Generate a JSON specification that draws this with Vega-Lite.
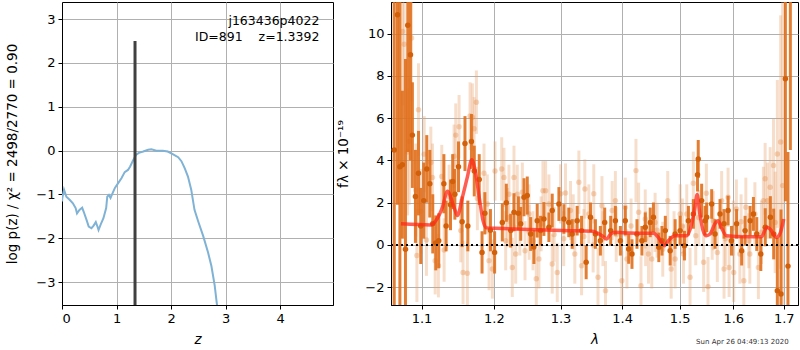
{
  "$schema": "https://vega.github.io/schema/vega-lite/v6.json",
  "padding": {"left": 5, "top": 1, "right": 0, "bottom": 0},
  "spacing": 2,
  "config": {
    "font": "DejaVu Sans",
    "view": {"stroke": "black", "strokeWidth": 1},
    "axis": {
      "labelFont": "DejaVu Sans", "labelFontSize": 13, "labelColor": "black",
      "titleFont": "DejaVu Sans", "titleFontSize": 13.5, "titleFontWeight": "normal", "titleColor": "black",
      "tickColor": "black", "tickSize": 4, "domainColor": "black",
      "gridColor": "#b0b0b0", "gridWidth": 1, "gridOpacity": 1, "labelPadding": 3
    }
  },
  "datasets": {
    "one": [{}],
    "pz": [
      {"z":0.0,"lp":-1.16},{"z":0.006,"lp":-1.08},{"z":0.037,"lp":-0.89},{"z":0.08,"lp":-1.05},{"z":0.14,"lp":-1.12},
      {"z":0.20,"lp":-1.20},{"z":0.25,"lp":-1.31},{"z":0.275,"lp":-1.43},{"z":0.32,"lp":-1.35},{"z":0.37,"lp":-1.30},
      {"z":0.40,"lp":-1.40},{"z":0.45,"lp":-1.58},{"z":0.49,"lp":-1.73},{"z":0.54,"lp":-1.77},{"z":0.58,"lp":-1.71},
      {"z":0.62,"lp":-1.63},{"z":0.65,"lp":-1.73},{"z":0.67,"lp":-1.81},{"z":0.71,"lp":-1.68},{"z":0.76,"lp":-1.54},
      {"z":0.81,"lp":-1.31},{"z":0.83,"lp":-1.05},{"z":0.86,"lp":-1.01},{"z":0.89,"lp":-1.08},{"z":0.92,"lp":-0.99},
      {"z":0.97,"lp":-0.85},{"z":1.03,"lp":-0.74},{"z":1.09,"lp":-0.63},{"z":1.15,"lp":-0.49},{"z":1.21,"lp":-0.44},
      {"z":1.25,"lp":-0.36},{"z":1.30,"lp":-0.23},{"z":1.36,"lp":-0.09},{"z":1.41,"lp":-0.05},{"z":1.49,"lp":-0.02},
      {"z":1.58,"lp":0.02},{"z":1.64,"lp":0.03},{"z":1.73,"lp":0.0},{"z":1.85,"lp":0.0},{"z":1.94,"lp":-0.02},
      {"z":2.03,"lp":-0.08},{"z":2.13,"lp":-0.15},{"z":2.19,"lp":-0.24},{"z":2.25,"lp":-0.40},{"z":2.31,"lp":-0.59},
      {"z":2.37,"lp":-0.89},{"z":2.43,"lp":-1.35},{"z":2.50,"lp":-1.62},{"z":2.59,"lp":-1.95},{"z":2.68,"lp":-2.33},
      {"z":2.74,"lp":-2.63},{"z":2.80,"lp":-3.07},{"z":2.85,"lp":-3.6}
    ],
    "zbest": [{"z":1.3392,"top":2.5,"bottom":-3.6}],
    "model": [
      {"w":1.0731,"f":1.0},{"w":1.1124,"f":0.95},{"w":1.1190,"f":1.15},{"w":1.1280,"f":1.78},{"w":1.1348,"f":2.54},
      {"w":1.1439,"f":1.78},{"w":1.1485,"f":1.39},{"w":1.1554,"f":2.26},{"w":1.1623,"f":3.21},{"w":1.1685,"f":4.03},
      {"w":1.1741,"f":3.36},{"w":1.1797,"f":2.10},{"w":1.1844,"f":1.15},{"w":1.1891,"f":0.81},{"w":1.2026,"f":0.79},
      {"w":1.2516,"f":0.73},{"w":1.3026,"f":0.68},{"w":1.3503,"f":0.65},{"w":1.3666,"f":0.44},{"w":1.3741,"f":0.28},
      {"w":1.3807,"f":0.52},{"w":1.3886,"f":0.60},{"w":1.411,"f":0.57},{"w":1.454,"f":0.55},{"w":1.463,"f":0.33},
      {"w":1.473,"f":-0.03},{"w":1.480,"f":0.21},{"w":1.492,"f":0.44},{"w":1.513,"f":0.44},{"w":1.522,"f":1.0},
      {"w":1.528,"f":1.79},{"w":1.532,"f":2.39},{"w":1.537,"f":1.47},{"w":1.543,"f":0.68},{"w":1.549,"f":0.44},
      {"w":1.556,"f":0.52},{"w":1.565,"f":1.0},{"w":1.571,"f":1.15},{"w":1.577,"f":0.84},{"w":1.587,"f":0.44},
      {"w":1.622,"f":0.39},{"w":1.655,"f":0.39},{"w":1.666,"f":0.84},{"w":1.672,"f":0.76},{"w":1.685,"f":0.36},
      {"w":1.692,"f":0.52},{"w":1.700,"f":1.23}
    ],
    "dark": [
      {"w":1.0645,"f":4.5,"e":9},{"w":1.0687,"f":10.9,"e":9},{"w":1.0718,"f":3.7,"e":9},{"w":1.0750,"f":3.8,"e":3.5},
      {"w":1.0790,"f":-0.2,"e":9},{"w":1.0820,"f":10.4,"e":6},{"w":1.0855,"f":9.0,"e":5},{"w":1.0880,"f":5.2,"e":2.5},
      {"w":1.0920,"f":2.3,"e":2.2},{"w":1.0960,"f":3.4,"e":2.0},{"w":1.0990,"f":0.9,"e":1.8},{"w":1.1030,"f":2.1,"e":1.8},
      {"w":1.1070,"f":3.6,"e":1.6},{"w":1.1110,"f":2.9,"e":1.6},{"w":1.1150,"f":1.0,"e":1.4},{"w":1.1190,"f":0.1,"e":1.3},
      {"w":1.1230,"f":0.2,"e":1.3},{"w":1.1300,"f":2.9,"e":1.4},{"w":1.1330,"f":0.9,"e":1.2},{"w":1.1390,"f":1.9,"e":1.2},
      {"w":1.1420,"f":3.0,"e":1.3},{"w":1.1450,"f":2.4,"e":1.2},{"w":1.1500,"f":3.7,"e":1.2},{"w":1.1550,"f":1.1,"e":1.2},
      {"w":1.1590,"f":4.8,"e":1.3},{"w":1.1630,"f":0.9,"e":1.2},{"w":1.1680,"f":4.9,"e":1.3},{"w":1.1720,"f":3.5,"e":1.2},
      {"w":1.1790,"f":3.1,"e":1.2},{"w":1.1830,"f":-0.35,"e":1.0},{"w":1.1870,"f":1.5,"e":1.0},{"w":1.1950,"f":0.7,"e":1.0},
      {"w":1.2010,"f":-0.35,"e":1.0},
      {"w":1.2122,"f":1.07,"e":0.9},{"w":1.2180,"f":2.0,"e":0.9},{"w":1.2244,"f":0.68,"e":0.8},{"w":1.2293,"f":1.55,"e":0.9},
      {"w":1.2358,"f":1.5,"e":0.8},{"w":1.2393,"f":1.0,"e":0.8},{"w":1.2442,"f":2.26,"e":0.9},{"w":1.2491,"f":2.34,"e":0.9},
      {"w":1.2542,"f":0.52,"e":0.8},{"w":1.2591,"f":-0.1,"e":0.8},{"w":1.2641,"f":1.15,"e":0.8},{"w":1.2692,"f":0.68,"e":0.7},
      {"w":1.2743,"f":1.23,"e":0.8},{"w":1.2820,"f":0.84,"e":0.7},{"w":1.2871,"f":1.63,"e":0.8},{"w":1.2975,"f":1.94,"e":0.8},
      {"w":1.3053,"f":1.23,"e":0.7},{"w":1.3130,"f":1.07,"e":0.7},{"w":1.3183,"f":0.52,"e":0.7},{"w":1.3263,"f":1.15,"e":0.7},
      {"w":1.3333,"f":0.68,"e":0.7},{"w":1.3407,"f":-0.82,"e":0.8},{"w":1.3477,"f":1.31,"e":0.7},{"w":1.3557,"f":0.52,"e":0.7},
      {"w":1.3638,"f":0.2,"e":0.7},{"w":1.3709,"f":1.07,"e":0.7},
      {"w":1.3808,"f":0.68,"e":0.7},{"w":1.3886,"f":1.15,"e":0.7},{"w":1.3970,"f":0.2,"e":0.7},{"w":1.4052,"f":1.15,"e":0.7},
      {"w":1.4110,"f":-0.19,"e":0.7},{"w":1.4166,"f":-0.43,"e":0.7},{"w":1.4251,"f":0.52,"e":0.7},{"w":1.4336,"f":0.2,"e":0.7},
      {"w":1.4394,"f":0.84,"e":0.7},{"w":1.4480,"f":1.07,"e":0.7},{"w":1.4536,"f":1.31,"e":0.7},{"w":1.4630,"f":-0.11,"e":0.7},
      {"w":1.4686,"f":0.2,"e":0.7},{"w":1.4745,"f":0.68,"e":0.7},{"w":1.4831,"f":-0.27,"e":0.7},{"w":1.4920,"f":0.52,"e":0.7},
      {"w":1.5010,"f":0.68,"e":0.7},{"w":1.5088,"f":-0.03,"e":0.7},{"w":1.5160,"f":1.15,"e":0.7},{"w":1.5250,"f":1.47,"e":0.7},
      {"w":1.5327,"f":3.33,"e":0.8},{"w":1.5340,"f":4.07,"e":0.9},{"w":1.5403,"f":2.1,"e":0.8},{"w":1.5467,"f":1.15,"e":0.7},
      {"w":1.5497,"f":1.31,"e":0.7},{"w":1.5590,"f":1.94,"e":0.7},{"w":1.5653,"f":0.52,"e":0.7},{"w":1.5747,"f":1.47,"e":0.7},
      {"w":1.5822,"f":1.0,"e":0.7},{"w":1.5900,"f":1.63,"e":0.7},{"w":1.5965,"f":0.2,"e":0.7},{"w":1.6064,"f":1.0,"e":0.7},
      {"w":1.6162,"f":-0.27,"e":0.7},{"w":1.6228,"f":0.68,"e":0.7},{"w":1.6327,"f":1.15,"e":0.7},{"w":1.6392,"f":1.47,"e":0.8},
      {"w":1.6458,"f":0.52,"e":0.8},{"w":1.6538,"f":-0.43,"e":0.8},{"w":1.6627,"f":0.84,"e":0.9},{"w":1.6729,"f":1.31,"e":1.0},
      {"w":1.6796,"f":0.52,"e":1.2},{"w":1.6870,"f":-2.16,"e":2.5},{"w":1.6944,"f":-2.32,"e":4},{"w":1.7034,"f":7.87,"e":5.8},
      {"w":1.7087,"f":-1.0,"e":5.4},{"w":1.7136,"f":13.0,"e":8.5}
    ],
    "light": [
      {"w":1.0752,"f":10.1,"e":3.5},{"w":1.0774,"f":9.5,"e":3.5},{"w":1.0817,"f":4.4,"e":3},{"w":1.0839,"f":4.9,"e":3},
      {"w":1.0869,"f":9.8,"e":3},{"w":1.0926,"f":2.6,"e":2.2},{"w":1.0939,"f":-0.5,"e":2.2},{"w":1.0960,"f":6.4,"e":2.2},
      {"w":1.0991,"f":1.6,"e":2.0},{"w":1.1035,"f":4.3,"e":1.8},{"w":1.1065,"f":0.24,"e":1.7},{"w":1.1124,"f":3.9,"e":1.7},
      {"w":1.1146,"f":3.2,"e":1.6},{"w":1.1182,"f":-0.74,"e":1.6},{"w":1.1226,"f":-0.98,"e":1.5},{"w":1.1271,"f":3.24,"e":1.5},
      {"w":1.1303,"f":-0.24,"e":1.5},{"w":1.1371,"f":2.3,"e":1.5},{"w":1.1439,"f":4.2,"e":1.5},{"w":1.1462,"f":5.2,"e":1.5},
      {"w":1.1508,"f":5.6,"e":1.5},{"w":1.1531,"f":0.68,"e":1.5},{"w":1.1563,"f":-1.3,"e":1.5},{"w":1.1623,"f":-1.34,"e":1.5},
      {"w":1.1661,"f":6.1,"e":1.6},{"w":1.1694,"f":6.05,"e":1.6},{"w":1.1717,"f":5.5,"e":1.5},{"w":1.1750,"f":6.76,"e":1.5},
      {"w":1.1764,"f":2.2,"e":1.5},{"w":1.1858,"f":3.4,"e":1.4},{"w":1.1905,"f":1.94,"e":1.4},{"w":1.1930,"f":-0.74,"e":1.4},
      {"w":1.1978,"f":-1.14,"e":1.4},{"w":1.2016,"f":3.5,"e":1.4},
      {"w":1.2113,"f":3.6,"e":1.5},{"w":1.2146,"f":3.2,"e":1.4},{"w":1.2171,"f":0.2,"e":1.4},{"w":1.2200,"f":1.3,"e":1.4},
      {"w":1.2219,"f":2.4,"e":1.4},{"w":1.2268,"f":-1.06,"e":1.4},{"w":1.2293,"f":3.2,"e":1.5},{"w":1.2318,"f":-0.43,"e":1.4},
      {"w":1.2342,"f":2.4,"e":1.4},{"w":1.2380,"f":0.9,"e":1.4},{"w":1.2417,"f":2.5,"e":1.4},{"w":1.2457,"f":-0.27,"e":1.4},
      {"w":1.2516,"f":1.47,"e":1.4},{"w":1.2520,"f":0.6,"e":1.3},{"w":1.2577,"f":0.2,"e":1.4},{"w":1.2627,"f":-1.6,"e":1.4},
      {"w":1.2667,"f":-0.66,"e":1.4},{"w":1.2700,"f":1.0,"e":1.3},{"w":1.2728,"f":2.57,"e":1.4},{"w":1.2769,"f":2.57,"e":1.4},
      {"w":1.2820,"f":1.94,"e":1.4},{"w":1.2871,"f":-0.9,"e":1.4},{"w":1.2900,"f":0.5,"e":1.3},{"w":1.2949,"f":-1.3,"e":1.4},
      {"w":1.3001,"f":2.42,"e":1.4},{"w":1.3050,"f":0.3,"e":1.3},{"w":1.3078,"f":2.46,"e":1.4},{"w":1.3157,"f":1.63,"e":1.4},
      {"w":1.3200,"f":1.1,"e":1.3},{"w":1.3225,"f":-0.43,"e":1.4},{"w":1.3290,"f":2.97,"e":1.5},{"w":1.3333,"f":-0.98,"e":1.4},
      {"w":1.3370,"f":0.4,"e":1.3},{"w":1.3386,"f":2.65,"e":1.4},{"w":1.3450,"f":1.47,"e":1.4},{"w":1.3520,"f":0.0,"e":1.3},
      {"w":1.3530,"f":2.42,"e":1.4},{"w":1.3599,"f":-1.53,"e":1.4},{"w":1.3664,"f":1.86,"e":1.4},{"w":1.3680,"f":0.3,"e":1.3},
      {"w":1.3722,"f":-2.16,"e":1.4},
      {"w":1.3833,"f":1.63,"e":1.4},{"w":1.3886,"f":2.1,"e":1.4},{"w":1.3900,"f":0.5,"e":1.3},{"w":1.3995,"f":-1.69,"e":1.4},
      {"w":1.4052,"f":1.79,"e":1.4},{"w":1.4080,"f":-0.66,"e":1.4},{"w":1.4150,"f":0.9,"e":1.3},{"w":1.4234,"f":3.52,"e":1.5},
      {"w":1.4280,"f":1.55,"e":1.4},{"w":1.4320,"f":-1.93,"e":1.4},{"w":1.4394,"f":1.23,"e":1.4},{"w":1.4400,"f":0.3,"e":1.3},
      {"w":1.4450,"f":-0.43,"e":1.4},{"w":1.4507,"f":-0.66,"e":1.4},{"w":1.4565,"f":1.07,"e":1.4},{"w":1.4600,"f":0.7,"e":1.3},
      {"w":1.4700,"f":-0.2,"e":1.3},{"w":1.4788,"f":2.1,"e":1.4},{"w":1.4849,"f":-1.14,"e":1.4},{"w":1.4900,"f":0.3,"e":1.3},
      {"w":1.4920,"f":-0.66,"e":1.4},{"w":1.5010,"f":1.47,"e":1.4},{"w":1.5050,"f":0.9,"e":1.3},{"w":1.5070,"f":-0.43,"e":1.4},
      {"w":1.5130,"f":1.47,"e":1.4},{"w":1.5190,"f":-1.53,"e":1.4},{"w":1.5250,"f":2.92,"e":1.5},{"w":1.5294,"f":0.44,"e":1.4},
      {"w":1.5350,"f":1.3,"e":1.3},{"w":1.5440,"f":-0.82,"e":1.4},{"w":1.5490,"f":2.45,"e":1.4},{"w":1.5521,"f":-1.97,"e":1.4},
      {"w":1.5600,"f":0.6,"e":1.3},{"w":1.5620,"f":1.15,"e":1.4},{"w":1.5696,"f":-0.35,"e":1.4},{"w":1.5778,"f":2.1,"e":1.4},
      {"w":1.5823,"f":-1.14,"e":1.4},{"w":1.5850,"f":0.3,"e":1.3},{"w":1.5900,"f":2.26,"e":1.4},{"w":1.5920,"f":-1.06,"e":1.4},
      {"w":1.6000,"f":0.8,"e":1.3},{"w":1.6008,"f":-1.3,"e":1.4},{"w":1.6060,"f":1.7,"e":1.4},{"w":1.6126,"f":-0.43,"e":1.4},
      {"w":1.6150,"f":1.1,"e":1.3},{"w":1.6204,"f":-1.69,"e":1.4},{"w":1.6243,"f":1.79,"e":1.4},{"w":1.6300,"f":0.2,"e":1.3},
      {"w":1.6321,"f":-0.43,"e":1.4},{"w":1.6421,"f":1.47,"e":1.5},{"w":1.6490,"f":-1.06,"e":1.5},{"w":1.6550,"f":0.6,"e":1.5},
      {"w":1.6590,"f":2.1,"e":1.6},{"w":1.6624,"f":3.13,"e":1.7},{"w":1.6670,"f":2.1,"e":1.8},{"w":1.6725,"f":2.73,"e":1.9},
      {"w":1.6792,"f":3.76,"e":2.2},{"w":1.6826,"f":1.07,"e":2.4},{"w":1.6870,"f":4.31,"e":3.5},{"w":1.6937,"f":4.87,"e":6},
      {"w":1.6978,"f":2.81,"e":9}
    ]
  },
  "hconcat": [
    {
      "width": 271,
      "height": 303,
      "layer": [
        {
          "data": {"name": "pz"},
          "mark": {"type": "line", "color": "#7fb2d5", "strokeWidth": 2, "clip": true},
          "encoding": {
            "x": {"field": "z", "type": "quantitative", "scale": {"domain": [0, 4.97], "nice": false, "zero": false},
                  "axis": {"values": [0, 1, 2, 3, 4], "format": "d", "title": "z", "titleFontStyle": "italic", "titlePadding": 7}},
            "y": {"field": "lp", "type": "quantitative", "scale": {"domain": [-3.52, 3.39], "nice": false, "zero": false},
                  "axis": {"values": [-3, -2, -1, 0, 1, 2, 3], "format": "d", "title": "log p(z) / χ² = 2498/2770 = 0.90", "titlePadding": 16}}
          }
        },
        {
          "data": {"name": "zbest"},
          "mark": {"type": "rule", "color": "#404040", "strokeWidth": 3, "clip": true},
          "encoding": {
            "x": {"field": "z", "type": "quantitative"},
            "y": {"field": "top", "type": "quantitative"},
            "y2": {"field": "bottom"}
          }
        },
        {
          "data": {"name": "one"},
          "mark": {"type": "text", "align": "right", "baseline": "middle", "fontSize": 12.5, "font": "DejaVu Sans", "color": "black"},
          "encoding": {"x": {"datum": 4.72}, "y": {"datum": 2.95}, "text": {"value": "j163436p4022"}}
        },
        {
          "data": {"name": "one"},
          "mark": {"type": "text", "align": "right", "baseline": "middle", "fontSize": 12.5, "font": "DejaVu Sans", "color": "black"},
          "encoding": {"x": {"datum": 4.72}, "y": {"datum": 2.6}, "text": {"value": "ID=891\u00a0\u00a0\u00a0\u00a0z=1.3392"}}
        }
      ]
    },
    {
      "width": 407,
      "height": 303,
      "layer": [
        {
          "data": {"name": "light"},
          "mark": {"type": "errorbar", "color": "#e8a06a", "opacity": 0.35, "thickness": 3, "clip": true},
          "encoding": {
            "x": {"field": "w", "type": "quantitative", "scale": {"type": "log", "domain": [1.0604, 1.7294], "nice": false},
                  "axis": {"values": [1.1, 1.2, 1.3, 1.4, 1.5, 1.6, 1.7], "format": ".1f", "title": "λ", "titleFontStyle": "italic", "titlePadding": 7}},
            "y": {"field": "f", "type": "quantitative", "title": "fλ × 10⁻¹⁹", "scale": {"domain": [-2.84, 11.5], "nice": false, "zero": false},
                  "axis": {"values": [-2, 0, 2, 4, 6, 8, 10], "format": "d", "titlePadding": 14}},
            "yError": {"field": "e"}
          }
        },
        {
          "data": {"name": "light"},
          "mark": {"type": "circle", "color": "#e07a2e", "opacity": 0.3, "size": 30, "clip": true},
          "encoding": {
            "x": {"field": "w", "type": "quantitative", "title": "λ"},
            "y": {"field": "f", "type": "quantitative", "title": "fλ × 10⁻¹⁹"}
          }
        },
        {
          "data": {"name": "dark"},
          "mark": {"type": "errorbar", "color": "#e06f1c", "opacity": 0.9, "thickness": 3, "clip": true},
          "encoding": {
            "x": {"field": "w", "type": "quantitative", "title": "λ"},
            "y": {"field": "f", "type": "quantitative", "title": "fλ × 10⁻¹⁹"},
            "yError": {"field": "e"}
          }
        },
        {
          "data": {"name": "dark"},
          "mark": {"type": "circle", "color": "#d2600a", "opacity": 1, "size": 30, "clip": true},
          "encoding": {
            "x": {"field": "w", "type": "quantitative", "title": "λ"},
            "y": {"field": "f", "type": "quantitative", "title": "fλ × 10⁻¹⁹"}
          }
        },
        {
          "data": {"name": "model"},
          "mark": {"type": "line", "color": "#ff2a1a", "opacity": 0.75, "strokeWidth": 3.5, "clip": true, "interpolate": "monotone"},
          "encoding": {
            "x": {"field": "w", "type": "quantitative", "title": "λ"},
            "y": {"field": "f", "type": "quantitative", "title": "fλ × 10⁻¹⁹"}
          }
        },
        {
          "data": {"name": "one"},
          "mark": {"type": "rule", "color": "black", "strokeWidth": 2, "strokeDash": [2, 3]},
          "encoding": {"y": {"datum": 0}}
        },
        {
          "data": {"name": "one"},
          "mark": {"type": "text", "align": "right", "baseline": "middle", "fontSize": 7, "font": "DejaVu Sans", "color": "#333333", "clip": false},
          "encoding": {"x": {"datum": 1.710}, "y": {"datum": -4.6}, "text": {"value": "Sun Apr 26 04:49:13 2020"}}
        }
      ]
    }
  ]
}
